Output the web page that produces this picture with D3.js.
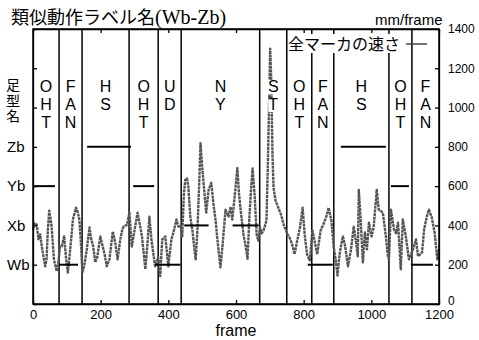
<!DOCTYPE html>
<html>
<head>
<meta charset="utf-8">
<script src="https://cdn.jsdelivr.net/npm/d3@7"></script>
<style>
  body { margin: 0; background: #fff; }
  svg { display: block; }
  .axis path, .axis line { stroke: #000; stroke-width: 1.3; }
  .axis text { font-family: "Liberation Sans", Arial, sans-serif; font-size: 13px; fill: #000; }
</style>
</head>
<body>
<div id="chart"></div>
<script>
// Segment names and boundaries (frames)
const segNames = ['OHT', 'FAN', 'HS', 'OHT', 'UD', 'NY', 'ST', 'OHT', 'FAN', 'HS', 'OHT', 'FAN'];
const segEdges = [0, 77, 145, 284, 370, 438, 670, 750, 824, 889, 1052, 1120, 1200];

// Similar-motion label markers (level in mm/frame scale, frame range)
const markLevel = [600, 200, 800, 600, 200, 400, 400, 200, 800, 600, 200];
const markStart = [0, 77, 160, 296, 361, 447, 590, 812, 910, 1058, 1117];
const markEnd = [65, 133, 290, 358, 436, 519, 667, 886, 1043, 1111, 1182];

// Speed of all markers
const frames = [0, 5, 11, 16, 21, 26, 31, 36, 40, 44, 48, 52, 55, 62, 67, 70, 74, 80, 85, 92, 98, 103, 110, 118, 124, 127, 132, 137, 141, 146, 152, 159, 167, 172, 178, 184, 190, 199, 206, 212, 218, 226, 231, 236, 243, 250, 258, 264, 268, 278, 282, 285, 292, 302, 309, 317, 322, 332, 338, 344, 350, 357, 361, 370, 376, 382, 391, 400, 409, 415, 424, 430, 436, 441, 446, 450, 455, 459, 465, 472, 477, 481, 486, 491, 495, 500, 504, 512, 519, 527, 533, 540, 545, 554, 560, 569, 578, 584, 589, 596, 604, 609, 613, 618, 622, 628, 634, 640, 645, 649, 655, 661, 666, 671, 676, 681, 686, 690, 694, 697, 701, 704, 708, 711, 717, 725, 733, 741, 752, 758, 766, 773, 781, 789, 797, 803, 810, 818, 826, 832, 840, 850, 858, 866, 874, 882, 889, 895, 900, 906, 910, 916, 922, 931, 940, 948, 955, 960, 963, 968, 975, 981, 987, 993, 1001, 1007, 1016, 1022, 1034, 1043, 1049, 1052, 1058, 1067, 1073, 1079, 1087, 1093, 1102, 1111, 1123, 1132, 1138, 1150, 1156, 1164, 1170, 1178, 1187, 1195, 1200];
const speed = [380, 410, 405, 330, 354, 293, 240, 192, 227, 380, 475, 430, 394, 227, 190, 167, 200, 290, 293, 344, 227, 160, 278, 430, 470, 490, 470, 430, 330, 160, 200, 278, 390, 330, 293, 212, 240, 344, 293, 250, 192, 227, 300, 369, 313, 227, 329, 380, 394, 404, 440, 465, 293, 394, 465, 394, 344, 177, 300, 445, 329, 240, 192, 238, 142, 329, 344, 192, 329, 364, 430, 394, 400, 344, 560, 632, 640, 600, 445, 364, 278, 227, 379, 600, 818, 700, 617, 465, 581, 617, 515, 420, 329, 187, 293, 480, 445, 495, 430, 546, 692, 560, 490, 414, 354, 300, 230, 455, 600, 690, 556, 354, 323, 389, 360, 374, 400, 424, 700, 950, 1300, 1150, 750, 591, 526, 490, 455, 404, 354, 339, 303, 253, 323, 389, 490, 354, 253, 222, 374, 323, 253, 374, 404, 440, 490, 424, 288, 222, 145, 250, 293, 344, 300, 192, 278, 394, 313, 243, 581, 445, 212, 364, 278, 414, 344, 394, 581, 480, 465, 344, 243, 227, 480, 379, 360, 414, 177, 430, 344, 227, 278, 329, 243, 263, 379, 445, 480, 445, 364, 227, 278];

// Tick labels
const xTicks = [0, 200, 400, 600, 800, 1000, 1200];
const yTicks = [0, 200, 400, 600, 800, 1000, 1200, 1400];
const footLabels = {200: 'Wb', 400: 'Xb', 600: 'Yb', 800: 'Zb'};

const W = 479, H = 340;
const margin = {top: 29, right: 40, bottom: 36, left: 33};
const iw = W - margin.left - margin.right;
const ih = H - margin.top - margin.bottom;

const svg = d3.select('#chart').append('svg')
  .attr('width', W).attr('height', H);

const g = svg.append('g')
  .attr('transform', 'translate(' + margin.left + ',' + margin.top + ')');

const x = d3.scaleLinear().domain([0, 1200]).range([0, iw]);
const y = d3.scaleLinear().domain([0, 1400]).range([ih, 0]);

// Segment boundaries
g.selectAll('.seg')
  .data(segEdges.slice(1, -1))
  .enter().append('line')
  .attr('x1', d => x(d)).attr('x2', d => x(d))
  .attr('y1', 0).attr('y2', ih)
  .attr('stroke', '#000').attr('stroke-width', 1.5);

// Speed line (grey, dotted look of the scan)
const line = d3.line()
  .x((d, i) => x(frames[i]))
  .y(d => y(d));

g.append('path')
  .datum(speed)
  .attr('d', line)
  .attr('fill', 'none')
  .attr('stroke', '#555')
  .attr('stroke-width', 2.4)
  .attr('stroke-dasharray', '3,0.7')
  .attr('stroke-linejoin', 'round');

// Label markers
g.selectAll('.mark')
  .data(markLevel)
  .enter().append('line')
  .attr('x1', (d, i) => x(markStart[i]))
  .attr('x2', (d, i) => x(markEnd[i]))
  .attr('y1', d => y(d)).attr('y2', d => y(d))
  .attr('stroke', '#000').attr('stroke-width', 2);

// Segment letters, stacked vertically, with white backing
segNames.forEach((name, i) => {
  const cx = x((segEdges[i] + segEdges[i + 1]) / 2);
  name.split('').forEach((ch, j) => {
    const t = g.append('text')
      .attr('x', cx)
      .attr('y', 92 - margin.top + j * 18)
      .attr('text-anchor', 'middle')
      .style('font-family', '"Liberation Sans", Arial, sans-serif')
      .style('font-size', '16px')
      .text(ch);
    const b = t.node().getBBox();
    g.insert('rect', function () { return t.node(); })
      .attr('x', b.x).attr('y', b.y + 2)
      .attr('width', b.width).attr('height', b.height - 3)
      .attr('fill', '#fff');
  });
});

// Legend
const legText = g.append('text')
  .attr('x', 288 - margin.left)
  .attr('y', 50 - margin.top)
  .style('font-family', '"Noto Sans CJK JP", sans-serif')
  .style('font-size', '16px')
  .text('全マーカの速さ');
const lb = legText.node().getBBox();
g.insert('rect', function () { return legText.node(); })
  .attr('x', lb.x + 1).attr('y', lb.y + 3)
  .attr('width', lb.width).attr('height', lb.height - 5)
  .attr('fill', '#fff');
g.append('line')
  .attr('x1', 406 - margin.left).attr('x2', 427 - margin.left)
  .attr('y1', 44 - margin.top).attr('y2', 44 - margin.top)
  .attr('stroke', '#444').attr('stroke-width', 1.5);

// Axes
g.append('g').attr('class', 'axis')
  .attr('transform', 'translate(0,' + ih + ')')
  .call(d3.axisBottom(x).tickValues(xTicks).tickSize(-4).tickPadding(6)
    .tickFormat(d3.format('d')).tickSizeOuter(0));

g.append('g').attr('class', 'axis')
  .call(d3.axisTop(x).tickValues(xTicks).tickSize(-4).tickFormat('').tickSizeOuter(0));

g.append('g').attr('class', 'axis')
  .attr('transform', 'translate(' + iw + ',0)')
  .call(d3.axisRight(y).tickValues(yTicks).tickSize(-4).tickPadding(9)
    .tickFormat(d3.format('d')).tickSizeOuter(0))
  .selectAll('text').style('font-size', '12px')
  .attr('dy', d => d === 0 ? '0' : '0.32em');

const left = g.append('g').attr('class', 'axis')
  .call(d3.axisLeft(y).tickValues(yTicks).tickSize(-4).tickSizeOuter(0)
    .tickFormat(d => footLabels[d] || ''));
left.selectAll('text')
  .attr('text-anchor', 'start')
  .attr('x', 7 - margin.left)
  .style('font-size', '15px');

// Frame box
g.append('rect')
  .attr('width', iw).attr('height', ih)
  .attr('fill', 'none').attr('stroke', '#000').attr('stroke-width', 1.5);

// Left vertical label 足型名
svg.append('text')
  .attr('x', 13).attr('y', 78)
  .style('writing-mode', 'vertical-rl')
  .style('font-family', '"Noto Sans CJK JP", sans-serif')
  .style('font-size', '14px')
  .style('letter-spacing', '1.5px')
  .text('足型名');

// Title
const title = svg.append('text')
  .attr('x', 11).attr('y', 24)
  .style('font-family', '"Noto Sans CJK JP", sans-serif')
  .style('font-size', '18px');
title.append('tspan').text('類似動作ラベル名');
title.append('tspan')
  .style('font-family', '"Liberation Serif", "Times New Roman", serif')
  .style('font-size', '20px')
  .text('(Wb-Zb)');

// Unit
svg.append('text')
  .attr('x', 375).attr('y', 25)
  .style('font-family', '"Liberation Sans", Arial, sans-serif')
  .style('font-size', '15px')
  .text('mm/frame');

// x label
svg.append('text')
  .attr('x', margin.left + iw / 2).attr('y', 336)
  .attr('text-anchor', 'middle')
  .style('font-family', '"Liberation Sans", Arial, sans-serif')
  .style('font-size', '16px')
  .text('frame');
</script>
</body>
</html>
